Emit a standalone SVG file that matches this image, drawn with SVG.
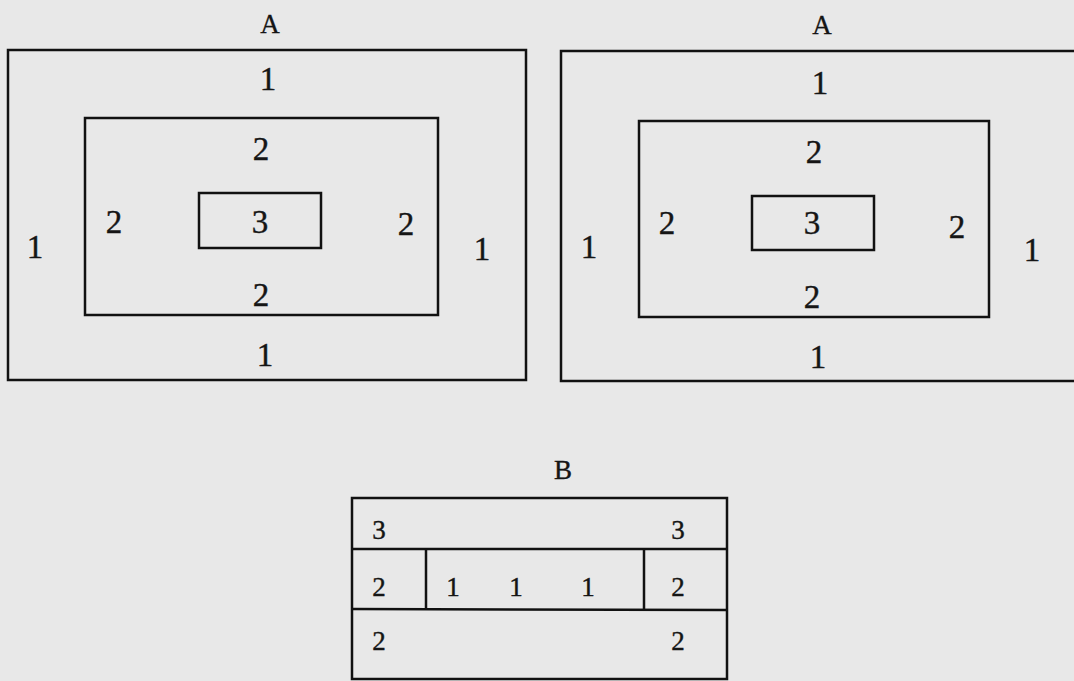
<svg xmlns="http://www.w3.org/2000/svg" width="1074" height="681" viewBox="0 0 1074 681">
<style>
.bx{fill:none;stroke:#111;stroke-width:2.5}
.ln{stroke:#111;stroke-width:2.5}
.d{font-family:"Liberation Serif",serif;font-size:33px;fill:#151515;stroke:#151515;stroke-width:0.4;text-anchor:middle}
.s{font-family:"Liberation Serif",serif;font-size:27px;fill:#151515;stroke:#151515;stroke-width:0.4;text-anchor:middle}
.t{font-family:"Liberation Serif",serif;font-size:27px;fill:#151515;stroke:#151515;stroke-width:0.3;text-anchor:middle}
</style>
<rect width="1074" height="681" fill="#e8e8e8"/>
<g id="panelA1">
<rect class="bx" x="8" y="50" width="518" height="330"/>
<rect class="bx" x="85" y="118" width="353" height="197"/>
<rect class="bx" x="199" y="193" width="122" height="55"/>
<text class="t" x="270" y="33">A</text>
<text class="d" x="268" y="90">1</text>
<text class="d" x="261" y="160">2</text>
<text class="d" x="114" y="233">2</text>
<text class="d" x="260" y="233">3</text>
<text class="d" x="406" y="235">2</text>
<text class="d" x="35" y="258">1</text>
<text class="d" x="482" y="260">1</text>
<text class="d" x="261" y="306">2</text>
<text class="d" x="265" y="366">1</text>
</g>
<g id="panelA2">
<rect class="bx" x="561" y="51" width="530" height="330"/>
<rect class="bx" x="639" y="121" width="350" height="196"/>
<rect class="bx" x="752" y="196" width="122" height="54"/>
<text class="t" x="822" y="34">A</text>
<text class="d" x="820" y="94">1</text>
<text class="d" x="814" y="163">2</text>
<text class="d" x="667" y="234">2</text>
<text class="d" x="812" y="234">3</text>
<text class="d" x="957" y="238">2</text>
<text class="d" x="589" y="258">1</text>
<text class="d" x="1032" y="261">1</text>
<text class="d" x="812" y="308">2</text>
<text class="d" x="818" y="368">1</text>
</g>
<g id="panelB">
<rect class="bx" x="352" y="498" width="375" height="181"/>
<line class="ln" x1="352" y1="549" x2="727" y2="549"/>
<line class="ln" x1="352" y1="609" x2="727" y2="610"/>
<line class="ln" x1="426" y1="549" x2="426" y2="609"/>
<line class="ln" x1="644" y1="549" x2="644" y2="610"/>
<text class="s" x="563" y="479">B</text>
<text class="s" x="379" y="539">3</text>
<text class="s" x="678" y="539">3</text>
<text class="s" x="379" y="596">2</text>
<text class="s" x="453" y="596">1</text>
<text class="s" x="516" y="596">1</text>
<text class="s" x="588" y="596">1</text>
<text class="s" x="678" y="596">2</text>
<text class="s" x="379" y="650">2</text>
<text class="s" x="678" y="650">2</text>
</g>
</svg>
